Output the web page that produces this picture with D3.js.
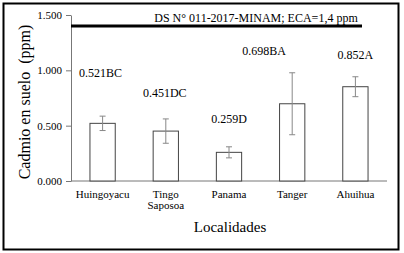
<!DOCTYPE html>
<html>
<head>
<meta charset="utf-8">
<script src="https://cdn.jsdelivr.net/npm/d3@7"></script>
<style>
  body { margin: 0; background: #fff; }
  svg text { font-family: "Liberation Serif", "Times New Roman", serif; fill: #000; }
</style>
</head>
<body>
<svg id="chart" width="404" height="253"></svg>
<script>
var localidades = ['Huingoyacu', 'Tingo\nSaposoa', 'Panama', 'Tanger', 'Ahuihua'];
var medias = [0.521, 0.451, 0.259, 0.698, 0.852];
var errores = [0.065, 0.11, 0.05, 0.28, 0.09];
var letras = ['BC', 'DC', 'D', 'BA', 'A'];
var yTicks = [0, 0.5, 1.0, 1.5];
var eca = 1.4;
var ecaLabel = 'DS N° 011-2017-MINAM; ECA=1,4 ppm';

var svg = d3.select('#chart');

// marco exterior
svg.append('rect')
    .attr('x', 3.5).attr('y', 3.5)
    .attr('width', 395).attr('height', 246)
    .attr('fill', 'none').attr('stroke', '#000').attr('stroke-width', 2);

var xScale = d3.scaleBand()
    .domain(localidades)
    .range([71, 387])
    .paddingInner(0.6)
    .paddingOuter(0.3);

var yScale = d3.scaleLinear()
    .domain([0, 1.5])
    .range([181, 15]);

// eje y
var yAxis = svg.append('g')
    .attr('transform', 'translate(71,0)')
    .call(d3.axisLeft(yScale).tickValues(yTicks).tickFormat(d3.format('.3f')).tickSize(5).tickSizeOuter(0));
yAxis.select('.domain').attr('stroke', '#777');
yAxis.selectAll('.tick line').attr('stroke', '#777');
yAxis.selectAll('.tick text')
    .attr('font-size', 11)
    .attr('x', -9)
    .style('font-family', '"Liberation Serif", serif');

// eje x
svg.append('line')
    .attr('x1', 71).attr('x2', 387)
    .attr('y1', yScale(0)).attr('y2', yScale(0))
    .attr('stroke', '#777');

// barras
svg.selectAll('rect.bar')
    .data(medias)
    .enter()
    .append('rect')
    .attr('class', 'bar')
    .attr('x', function (d, i) { return xScale(localidades[i]); })
    .attr('y', function (d) { return yScale(d); })
    .attr('width', xScale.bandwidth())
    .attr('height', function (d) { return yScale(0) - yScale(d); })
    .attr('fill', '#fff')
    .attr('stroke', '#444')
    .attr('stroke-width', 1);

// barras de error
var err = svg.selectAll('g.err')
    .data(medias)
    .enter()
    .append('g')
    .attr('class', 'err')
    .attr('stroke', '#888');
err.append('line')
    .attr('x1', function (d, i) { return xScale(localidades[i]) + xScale.bandwidth() / 2; })
    .attr('x2', function (d, i) { return xScale(localidades[i]) + xScale.bandwidth() / 2; })
    .attr('y1', function (d, i) { return yScale(d + errores[i]); })
    .attr('y2', function (d, i) { return yScale(d - errores[i]); });
[1, -1].forEach(function (s) {
    err.append('line')
        .attr('x1', function (d, i) { return xScale(localidades[i]) + xScale.bandwidth() / 2 - 3; })
        .attr('x2', function (d, i) { return xScale(localidades[i]) + xScale.bandwidth() / 2 + 3; })
        .attr('y1', function (d, i) { return yScale(d + s * errores[i]); })
        .attr('y2', function (d, i) { return yScale(d + s * errores[i]); });
});

// etiquetas de medias (posición en unidades del eje y, desplazamiento en px)
var labelY = [0.94, 0.76, 0.524, 1.139, 1.102];
var labelDx = [-2, -1, 0, -28, 0];
svg.selectAll('text.val')
    .data(medias)
    .enter()
    .append('text')
    .attr('class', 'val')
    .attr('x', function (d, i) { return xScale(localidades[i]) + xScale.bandwidth() / 2 + labelDx[i]; })
    .attr('y', function (d, i) { return yScale(labelY[i]); })
    .attr('text-anchor', 'middle')
    .attr('font-size', 12)
    .text(function (d, i) { return d3.format('.3f')(d) + letras[i]; });

// línea ECA
svg.append('line')
    .attr('x1', 71).attr('x2', 362)
    .attr('y1', yScale(eca)).attr('y2', yScale(eca))
    .attr('stroke', '#000').attr('stroke-width', 3);
svg.append('text')
    .attr('x', 256).attr('y', yScale(eca) - 4)
    .attr('text-anchor', 'middle')
    .attr('font-size', 12)
    .text(ecaLabel);

// etiquetas de categorías
svg.selectAll('text.cat')
    .data(localidades)
    .enter()
    .append('text')
    .attr('class', 'cat')
    .attr('text-anchor', 'middle')
    .attr('font-size', 11)
    .each(function (d) {
        var t = d3.select(this);
        d.split('\n').forEach(function (line, k) {
            t.append('tspan')
                .attr('x', xScale(d) + xScale.bandwidth() / 2)
                .attr('y', 198 + k * 11)
                .text(line);
        });
    });

// títulos
svg.append('text')
    .attr('x', 230).attr('y', 232)
    .attr('text-anchor', 'middle')
    .attr('font-size', 15)
    .text('Localidades');
svg.append('text')
    .attr('transform', 'translate(30,102) rotate(-90)')
    .attr('text-anchor', 'middle')
    .attr('font-size', 16)
    .attr('xml:space', 'preserve')
    .style('white-space', 'pre')
    .text('Cadmio en suelo  (ppm)');
</script>
</body>
</html>
